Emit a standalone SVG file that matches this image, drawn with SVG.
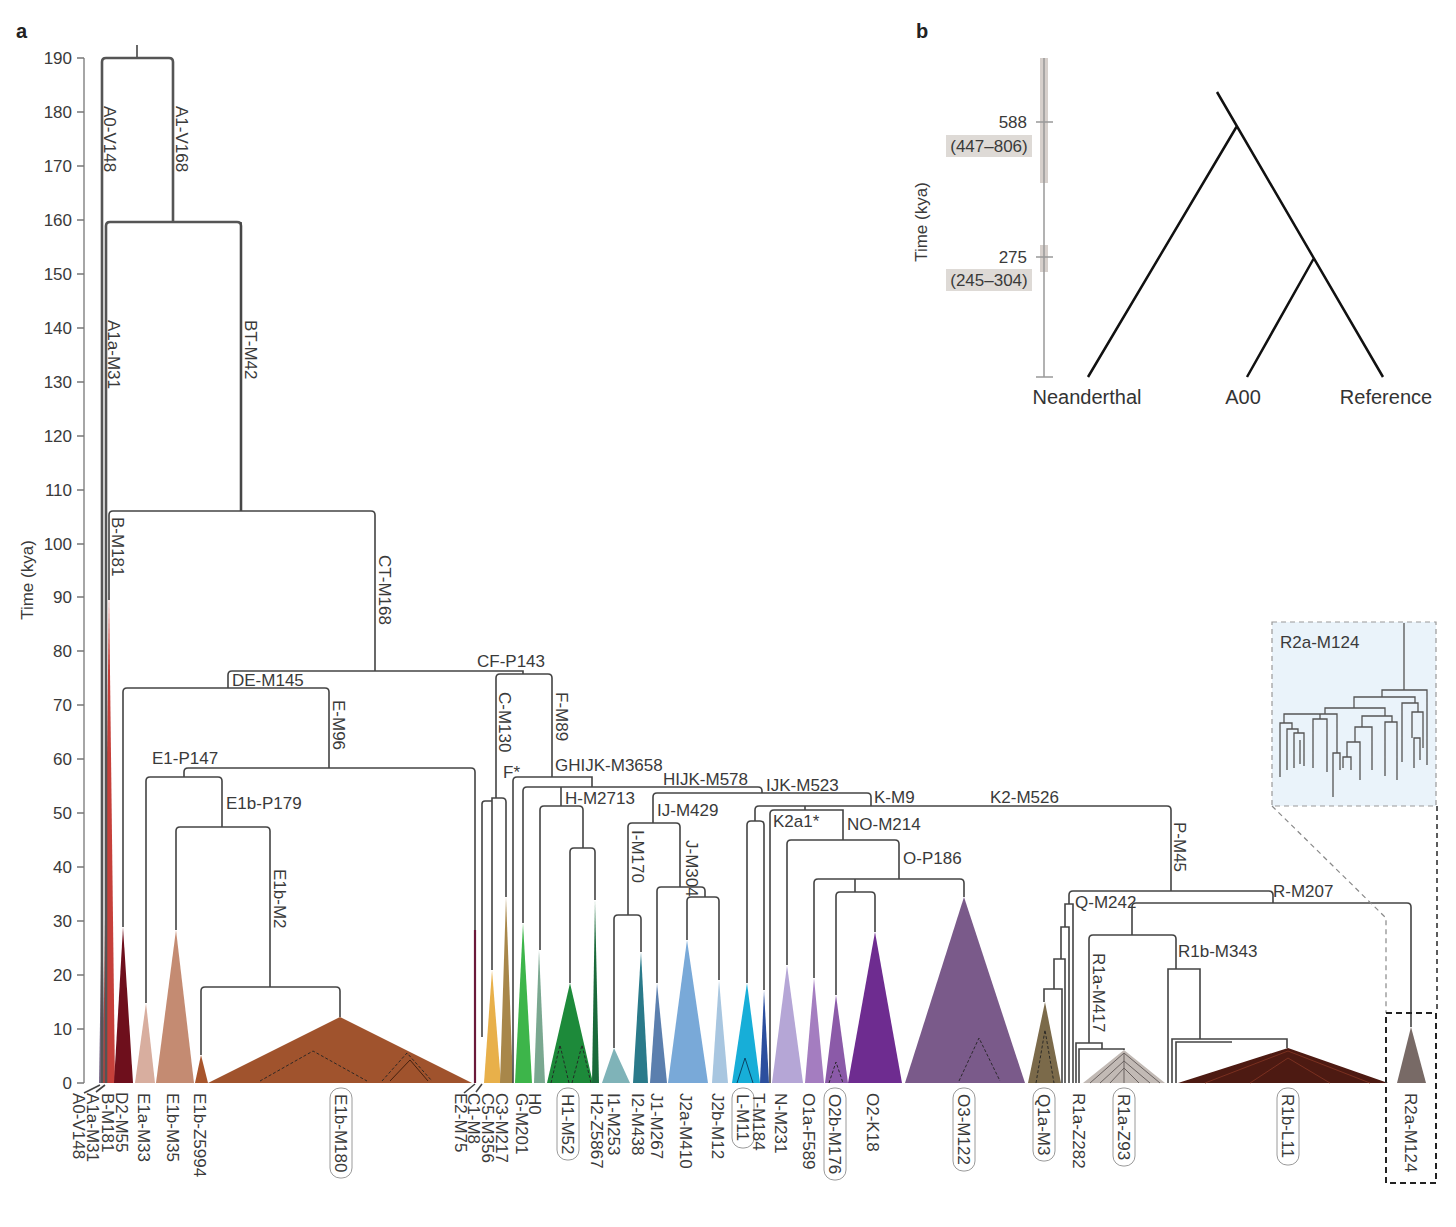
<svg xmlns="http://www.w3.org/2000/svg" width="1456" height="1227" viewBox="0 0 1456 1227">
<style>
.ln{fill:none;stroke:#444;stroke-width:1.6}
.thk{fill:none;stroke:#555;stroke-width:2.6}
.t{font-family:"Liberation Sans",Arial,sans-serif;font-size:17px;fill:#3a3a3a}
.tb{font-family:"Liberation Sans",Arial,sans-serif;font-size:20px;fill:#333}
.ttl{font-family:"Liberation Sans",Arial,sans-serif;font-size:20px;font-weight:bold;fill:#222}
.tk{fill:none;stroke:#777;stroke-width:1.3}
.bx{fill:#fff;stroke:#9a9a9a;stroke-width:1}
.dk{fill:none;stroke:#222;stroke-width:0.9;stroke-dasharray:3 2}
.inl{fill:none;stroke:#555;stroke-width:1.3}
</style>
<rect width="1456" height="1227" fill="#fff"/>
<text class="ttl" x="16" y="38">a</text>
<text class="ttl" x="916" y="38">b</text>

<g id="axis-a">
<path class="tk" d="M84 58V1083M77 1083H84M77 1029H84M77 975H84M77 921H84M77 867H84M77 813H84M77 759H84M77 705H84M77 651H84M77 597H84M77 544H84M77 490H84M77 436H84M77 382H84M77 328H84M77 274H84M77 220H84M77 166H84M77 112H84M77 58H84"/>
<g class="t" text-anchor="end">
<text x="72" y="1089">0</text><text x="72" y="1035">10</text><text x="72" y="981">20</text><text x="72" y="927">30</text><text x="72" y="873">40</text><text x="72" y="819">50</text><text x="72" y="765">60</text><text x="72" y="711">70</text><text x="72" y="657">80</text><text x="72" y="603">90</text><text x="72" y="550">100</text><text x="72" y="496">110</text><text x="72" y="442">120</text><text x="72" y="388">130</text><text x="72" y="334">140</text><text x="72" y="280">150</text><text x="72" y="226">160</text><text x="72" y="172">170</text><text x="72" y="118">180</text><text x="72" y="64">190</text>
</g>
<text class="t" text-anchor="middle" transform="translate(33,580) rotate(-90)">Time (kya)</text>
</g>

<g id="clades">
<polygon points="99,1083 102,900 105,1083" fill="#7a6a8a"/>
<polygon points="103,1083 109,590 115,1083" fill="#c6403a"/>
<polygon points="114,1083 123,927 133,1083" fill="#6e0f1c"/>
<polygon points="135,1083 146,1003 155,1083" fill="#d8ae9f"/>
<polygon points="156,1083 176,930 194,1083" fill="#c48b72"/>
<polygon points="195,1083 201,1055 208,1083" fill="#a8552c"/>
<polygon points="208,1083 340,1017 472,1083" fill="#a0532d"/>
<path class="dk" d="M260 1081L313 1051L367 1081M382 1081L407 1053L432 1081"/>
<path fill="none" stroke="#3a1a0a" stroke-width="0.9" d="M390 1081L410 1060L428 1081"/>
<path fill="none" stroke="#6b1a3a" stroke-width="2.2" d="M475 930V1083"/>
<polygon points="484,1083 492,970 501,1083" fill="#e8b04a"/>
<polygon points="500,1083 506,897 513,1083" fill="#a8874a"/>
<polygon points="515,1083 523,923 532,1083" fill="#3db54a"/>
<polygon points="534,1083 539,950 545,1083" fill="#7aa890"/>
<polygon points="547,1083 570,983 593,1083" fill="#1d8a3a"/>
<path class="dk" d="M551 1083L560 1045L569 1083M572 1083L582 1045L591 1083"/>
<polygon points="592,1083 595,900 599,1083" fill="#1a6a3a"/>
<polygon points="602,1083 614,1048 630,1083" fill="#7fb3b8"/>
<polygon points="633,1083 641,952 648,1083" fill="#2a7a8a"/>
<polygon points="650,1083 657,983 667,1083" fill="#5b7fae"/>
<polygon points="668,1083 687,940 708,1083" fill="#79a9d8"/>
<polygon points="712,1083 719,980 728,1083" fill="#a8c6e0"/>
<polygon points="732,1083 747,983 760,1083" fill="#17aed8"/>
<path fill="none" stroke="#0a3a5a" stroke-width="0.9" d="M737 1083L745 1058L753 1083"/>
<polygon points="760,1083 764,990 769,1083" fill="#2c4f9e"/>
<polygon points="772,1083 787,965 803,1083" fill="#b5a6d6"/>
<polygon points="805,1083 814,978 824,1083" fill="#a47dc0"/>
<polygon points="825,1083 836,995 848,1083" fill="#8b5aa8"/>
<path class="dk" d="M829 1083L836 1062L843 1083"/>
<polygon points="848,1083 875,932 902,1083" fill="#6e2c90"/>
<polygon points="905,1083 964,897 1025,1083" fill="#7a5a8a"/>
<path class="dk" d="M959 1081L979 1038L1000 1081"/>
<polygon points="1028,1083 1045,1002 1061,1083" fill="#7b6a4a"/>
<path class="dk" d="M1036 1083L1045 1030L1054 1083"/>
<polygon points="1083,1083 1124,1050 1165,1083" fill="#c2bab5"/>
<path fill="none" stroke="#6a6260" stroke-width="1" d="M1090 1083L1124 1053L1160 1083M1100 1083L1124 1061L1150 1083M1124 1053V1083M1110 1083L1124 1068L1139 1083"/>
<polygon points="1178,1083 1288,1048 1388,1083" fill="#4d1a12"/>
<path fill="none" stroke="#7a3020" stroke-width="1" d="M1205 1083L1288 1051L1370 1083M1250 1083L1288 1058L1330 1083"/>
<polygon points="1397,1083 1411,1027 1426,1083" fill="#786a66"/>
</g>

<g id="connectors">
<path class="ln" d="M137 45V58"/>
<path class="thk" d="M102 1083V62Q102 58 106 58H169Q173 58 173 62V222"/>
<path class="thk" d="M106 1083V226Q106 222 110 222H237Q241 222 241 226V511"/>
<path class="ln" d="M241 222V511"/>
<path class="ln" d="M109 600V515Q109 511 113 511H371Q375 511 375 515V671"/>
<path class="ln" d="M228 688V675Q228 671 232 671H523V674"/>
<path class="ln" d="M496 798V678Q496 674 500 674H548Q552 674 552 678V777"/>
<path class="ln" d="M123 927V692Q123 688 127 688H325Q329 688 329 692V768"/>
<path class="ln" d="M184 777V772Q184 768 188 768H471Q475 768 475 772V930"/>
<path class="ln" d="M146 1003V781Q146 777 150 777H218Q222 777 222 781V827"/>
<path class="ln" d="M176 930V831Q176 827 180 827H266Q270 827 270 831V987"/>
<path class="ln" d="M201 1055V991Q201 987 205 987H336Q340 987 340 991V1017"/>
<path class="ln" d="M492 970V798H502Q506 798 506 802V897"/>
<path class="ln" d="M482 1037V804Q482 801 485 801H492"/>
<path class="ln" d="M513 1083V781Q513 777 517 777H592V787"/>
<path class="ln" d="M523 923V791Q523 787 527 787H758Q762 787 762 791V793"/>
<path class="ln" d="M561 787V806"/>
<path class="ln" d="M540 950V810Q540 806 544 806H579Q583 806 583 810V848"/>
<path class="ln" d="M570 983V852Q570 848 574 848H591Q595 848 595 852V900"/>
<path class="ln" d="M653 823V797Q653 793 657 793H867Q871 793 871 797V806"/>
<path class="ln" d="M628 915V827Q628 823 632 823H676Q680 823 680 827V887"/>
<path class="ln" d="M614 1048V919Q614 915 618 915H637Q641 915 641 919V952"/>
<path class="ln" d="M657 983V891Q657 887 661 887H701Q705 887 705 891V897"/>
<path class="ln" d="M687 940V901Q687 897 691 897H715Q719 897 719 901V980"/>
<path class="ln" d="M755 821V810Q755 806 759 806H1167Q1171 806 1171 810V891"/>
<path class="ln" d="M747 983V825Q747 821 751 821H760Q764 821 764 825V990"/>
<path class="ln" d="M805 806V810"/>
<path class="ln" d="M770 1083V814Q770 810 774 810H843V840"/>
<path class="ln" d="M787 965V844Q787 840 791 840H895Q899 840 899 844V879"/>
<path class="ln" d="M814 978V883Q814 879 818 879H960Q964 879 964 883V897"/>
<path class="ln" d="M855 879V892"/>
<path class="ln" d="M836 995V896Q836 892 840 892H871Q875 892 875 896V932"/>
<path class="ln" d="M1069 904V895Q1069 891 1073 891H1269Q1273 891 1273 895V903"/>
<path class="ln" d="M1132 935V907Q1132 903 1136 903H1407Q1411 903 1411 907V1027"/>
<path class="ln" d="M1089 1043V939Q1089 935 1093 935H1172Q1176 935 1176 939V969"/>
<path class="ln" d="M1065 927V904H1073V1083M1061 959V927H1069V1083M1054 989V959H1065V1083M1044 1002V989H1062V1083"/>
<path class="ln" d="M1076 1083V1043H1102V1049M1079 1083V1049H1124V1050"/>
<path class="ln" d="M1168 1083V969H1200V1039M1172 1083V1039H1287V1048M1176 1083V1042H1232"/>
<path class="ln" stroke-width="1" d="M100 1085L84 1093M105 1085L96 1092M475 1084L464 1093M482 1084L476 1092"/>
</g>

<g id="branch-labels" class="t">
<text x="477" y="667">CF-P143</text>
<text x="232" y="686">DE-M145</text>
<text x="152" y="764">E1-P147</text>
<text x="226" y="809">E1b-P179</text>
<text x="555" y="771">GHIJK-M3658</text>
<text x="503" y="778">F*</text>
<text x="663" y="785">HIJK-M578</text>
<text x="766" y="791">IJK-M523</text>
<text x="565" y="804">H-M2713</text>
<text x="657" y="816">IJ-M429</text>
<text x="874" y="803">K-M9</text>
<text x="990" y="803">K2-M526</text>
<text x="773" y="827">K2a1*</text>
<text x="847" y="830">NO-M214</text>
<text x="903" y="864">O-P186</text>
<text x="1075" y="908">Q-M242</text>
<text x="1273" y="897">R-M207</text>
<text x="1178" y="957">R1b-M343</text>
<text transform="translate(104,106) rotate(90)">A0-V148</text>
<text transform="translate(176,106) rotate(90)">A1-V168</text>
<text transform="translate(108,320) rotate(90)">A1a-M31</text>
<text transform="translate(245,320) rotate(90)">BT-M42</text>
<text transform="translate(112,517) rotate(90)">B-M181</text>
<text transform="translate(379,555) rotate(90)">CT-M168</text>
<text transform="translate(333,700) rotate(90)">E-M96</text>
<text transform="translate(274,869) rotate(90)">E1b-M2</text>
<text transform="translate(499,692) rotate(90)">C-M130</text>
<text transform="translate(556,692) rotate(90)">F-M89</text>
<text transform="translate(632,830) rotate(90)">I-M170</text>
<text transform="translate(686,840) rotate(90)">J-M304</text>
<text transform="translate(1174,822) rotate(90)">P-M45</text>
<text transform="translate(1093,953) rotate(90)">R1a-M417</text>
</g>

<g id="tip-labels" class="t">
<text transform="translate(73,1093) rotate(90)">A0-V148</text>
<text transform="translate(87,1093) rotate(90)">A1a-M31</text>
<text transform="translate(102,1093) rotate(90)">B-M181</text>
<text transform="translate(116,1092) rotate(90)">D2-M55</text>
<text transform="translate(138,1093) rotate(90)">E1a-M33</text>
<text transform="translate(167,1093) rotate(90)">E1b-M35</text>
<text transform="translate(194,1093) rotate(90)">E1b-Z5994</text>
<rect class="bx" x="330" y="1088" width="22" height="90" rx="10"/>
<text transform="translate(335,1094) rotate(90)">E1b-M180</text>
<text transform="translate(455,1093) rotate(90)">E2-M75</text>
<text transform="translate(468,1093) rotate(90)">C1-M8</text>
<text transform="translate(482,1093) rotate(90)">C5-M356</text>
<text transform="translate(496,1093) rotate(90)">C3-M217</text>
<text transform="translate(516,1093) rotate(90)">G-M201</text>
<text transform="translate(529,1093) rotate(90)">H0</text>
<rect class="bx" x="557" y="1088" width="22" height="72" rx="10"/>
<text transform="translate(562,1094) rotate(90)">H1-M52</text>
<text transform="translate(591,1093) rotate(90)">H2-Z5867</text>
<text transform="translate(608,1093) rotate(90)">I1-M253</text>
<text transform="translate(632,1093) rotate(90)">I2-M438</text>
<text transform="translate(651,1093) rotate(90)">J1-M267</text>
<text transform="translate(680,1093) rotate(90)">J2a-M410</text>
<text transform="translate(712,1093) rotate(90)">J2b-M12</text>
<rect class="bx" x="732" y="1088" width="22" height="60" rx="10"/>
<text transform="translate(737,1094) rotate(90)">L-M11</text>
<text transform="translate(753,1093) rotate(90)">T-M184</text>
<text transform="translate(775,1093) rotate(90)">N-M231</text>
<text transform="translate(803,1093) rotate(90)">O1a-F589</text>
<rect class="bx" x="824" y="1088" width="22" height="92" rx="10"/>
<text transform="translate(829,1094) rotate(90)">O2b-M176</text>
<text transform="translate(867,1093) rotate(90)">O2-K18</text>
<rect class="bx" x="953" y="1088" width="22" height="83" rx="10"/>
<text transform="translate(958,1094) rotate(90)">O3-M122</text>
<rect class="bx" x="1033" y="1088" width="22" height="73" rx="10"/>
<text transform="translate(1038,1094) rotate(90)">Q1a-M3</text>
<text transform="translate(1073,1093) rotate(90)">R1a-Z282</text>
<rect class="bx" x="1113" y="1088" width="22" height="78" rx="10"/>
<text transform="translate(1118,1094) rotate(90)">R1a-Z93</text>
<rect class="bx" x="1277" y="1088" width="22" height="77" rx="10"/>
<text transform="translate(1282,1094) rotate(90)">R1b-L11</text>
<text transform="translate(1405,1093) rotate(90)">R2a-M124</text>
</g>

<g id="inset-r2a">
<rect x="1272" y="622" width="164" height="184" fill="#eaf3fa" stroke="#999" stroke-width="1.2" stroke-dasharray="5 4"/>
<text class="t" x="1280" y="648">R2a-M124</text>
<path class="inl" d="M1404 623V690M1382 697V690H1427V765M1354 708V697H1415V703M1402 762V703H1418V712M1412 738V712H1423V748M1414 768V738H1420V760"/>
<path class="inl" d="M1325 714V708H1385V716M1284 723V714H1337V753M1280 777V723H1292V729M1287 770V729H1298V733M1294 768V733H1304V766M1300 764V740M1320 714V719M1313 768V719H1327V772M1333 797V753H1340V770"/>
<path class="inl" d="M1362 727V716H1392V722M1385 776V722H1397V780M1355 742V727H1372V770M1347 757V742H1360V780M1343 768V757H1351V770"/>
</g>

<g id="zoom-links">
<path fill="none" stroke="#888" stroke-width="1.2" stroke-dasharray="5 4" d="M1272 806L1386 918V1013"/>
<path fill="none" stroke="#333" stroke-width="1.6" stroke-dasharray="5 4" d="M1437 806V1013"/>
<rect x="1386" y="1013" width="50" height="170" fill="none" stroke="#222" stroke-width="2" stroke-dasharray="6 4"/>
</g>

<g id="panel-b">
<rect x="1040" y="58" width="8" height="125" fill="#d6cfcb"/>
<rect x="1040" y="245" width="8" height="27" fill="#d6cfcb"/>
<path fill="none" stroke="#999" stroke-width="1.5" d="M1044 58V377M1036 122H1053M1036 257H1053M1036 377H1053"/>
<text class="t" text-anchor="end" x="1027" y="128">588</text>
<rect x="946" y="135" width="86" height="22" fill="#dedad6"/>
<text class="t" text-anchor="middle" x="989" y="152">(447–806)</text>
<text class="t" text-anchor="end" x="1027" y="263">275</text>
<rect x="946" y="269" width="86" height="22" fill="#dedad6"/>
<text class="t" text-anchor="middle" x="989" y="286">(245–304)</text>
<text class="t" text-anchor="middle" transform="translate(927,222) rotate(-90)">Time (kya)</text>
<path fill="none" stroke="#111" stroke-width="2.5" d="M1217 92L1383 377M1237 126L1088 377M1314 258L1247 377"/>
<text class="tb" text-anchor="middle" x="1087" y="404">Neanderthal</text>
<text class="tb" text-anchor="middle" x="1243" y="404">A00</text>
<text class="tb" text-anchor="middle" x="1386" y="404">Reference</text>
</g>
</svg>
